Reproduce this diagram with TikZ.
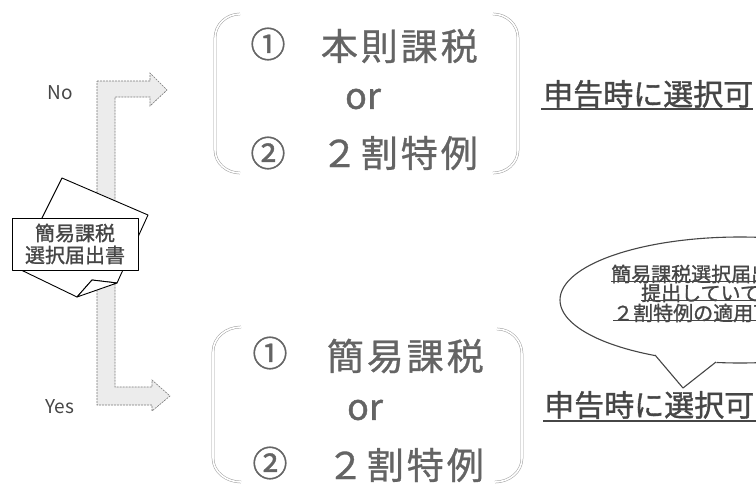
\documentclass[tikz,border=0pt]{standalone}
\usepackage{fontspec}
\newfontfamily\jp{Noto Sans CJK JP}
\newfontfamily\jpb[FakeBold=1.2]{Noto Sans CJK JP}
\newfontfamily\jpls[LetterSpace=8,FakeBold=0.8]{Noto Sans CJK JP}
\definecolor{bigtxt}{RGB}{100,100,100}
\definecolor{darktxt}{RGB}{70,70,70}
\definecolor{arrowfill}{RGB}{236,236,236}
\definecolor{arrowline}{RGB}{120,120,120}
\definecolor{brk}{RGB}{160,160,160}
\begin{document}
\begin{tikzpicture}[x=1pt,y=-1pt,
  arrowshape/.style={fill=arrowfill,draw=arrowline,line width=0.6pt,dash pattern=on 2pt off 1pt},
  bracketline/.style={draw=brk,line width=0.5pt,double=white,double distance=1.6pt},
  paper/.style={draw=black,line width=0.9pt,fill=white,line join=round},
  doctext/.style={inner sep=0pt,font=\jpb\fontsize{20}{22}\selectfont,text=darktxt},
  circnum/.style={inner sep=0pt,font=\jpb\fontsize{35}{38}\selectfont,text=bigtxt},
  bigjp/.style={inner sep=0pt,anchor=east,font=\jpls\fontsize{37}{40}\selectfont,text=bigtxt},
  ortext/.style={inner sep=0pt,font=\jpb\fontsize{36}{38}\selectfont,text=bigtxt},
  yesno/.style={inner sep=0pt,font=\jp\fontsize{19}{21}\selectfont,text=darktxt},
  choose/.style={inner sep=0pt,anchor=west,font=\jpb\fontsize{30}{32}\selectfont,text=darktxt},
  calltext/.style={inner sep=0pt,anchor=west,font=\jpb\fontsize{20}{22}\selectfont,text=darktxt},
  uline/.style={draw=darktxt,line width=1.3pt},
  callout/.style={draw=darktxt,line width=1.1pt}
]
\useasboundingbox (0,0) rectangle (756,485);
\clip (0,0) rectangle (756,485);
\fill[white] (0,0) rectangle (756,485);

% bent arrows (No / Yes)
\draw[arrowshape] (97,81) -- (150,81) -- (150,73) -- (167,90) -- (150,106) -- (150,97)
  -- (115,97) -- (115,387) -- (152,387) -- (152,380) -- (170,396) -- (152,411)
  -- (152,405) -- (97,405) -- cycle;

\node[yesno] (no) at (60,93) {No};
\node[yesno] (yes) at (60,407) {Yes};

% document icon
\draw[paper] (62,178) -- (148,215) -- (117,283) -- (92,280) -- (77,297) -- (17,268) -- cycle;
\draw[paper] (77,297) -- (92,280) -- (117,283) -- cycle;
\draw[paper] (12,218) rectangle (138,270);
\node[doctext] (doc1) at (75,233) {簡易課税};
\node[doctext] (doc2) at (75,255) {選択届出書};

% top bracket group
\draw[bracketline] (240,14) to[out=180,in=90] (215,38) -- (215,150) to[out=-90,in=180] (240,173);
\draw[bracketline] (493,14) to[out=0,in=90] (518,38) -- (518,150) to[out=-90,in=0] (493,173);
\node[circnum] (t1) at (268,44) {①};
\node[bigjp] (t1t) at (478,46) {本則課税};
\node[ortext] (tor) at (363,99) {or};
\node[circnum] (t2) at (268,153) {②};
\node[bigjp] (t2t) at (478,153) {２割特例};

% bottom bracket group
\draw[bracketline] (241,327) to[out=180,in=90] (213,352) -- (213,458) to[out=-90,in=180] (241,482);
\draw[bracketline] (497,329) to[out=0,in=90] (522,354) -- (522,458) to[out=-90,in=0] (495,482);
\node[circnum] (b1) at (270,353) {①};
\node[bigjp] (b1t) at (484,356) {簡易課税};
\node[ortext] (bor) at (365,410) {or};
\node[circnum] (b2) at (270,463) {②};
\node[bigjp] (b2t) at (484,465) {２割特例};

% "申告時に選択可" labels
\node[choose] (c1) at (543,94) {申告時に選択可};
\draw[uline] (541,109) -- (753,109);
\node[choose] (c2) at (544,405) {申告時に選択可};
\draw[uline] (543,421) -- (756,421);

% callout
\draw[callout,fill=white] (740,300) ellipse [x radius=180, y radius=63];
\fill[white] (655,351) -- (717,358) -- (717,362) -- (683,388) -- (655,356) -- cycle;
\draw[callout,line join=round] (655,355) -- (683,388) -- (716,362);
\node[calltext] (l1) at (611,274) {簡易課税選択届出書を};
\node[calltext] (l2) at (641,293) {提出していても};
\node[calltext] (l3) at (613,313) {２割特例の適用可能};
\draw[darktxt,line width=0.9pt] ([yshift=2pt]l1.south west) -- ([yshift=2pt]l1.south east);
\draw[darktxt,line width=0.9pt] ([yshift=2pt]l2.south west) -- ([yshift=2pt]l2.south east);
\draw[darktxt,line width=0.9pt] ([yshift=2pt]l3.south west) -- ([yshift=2pt]l3.south east);
\end{tikzpicture}
\end{document}
